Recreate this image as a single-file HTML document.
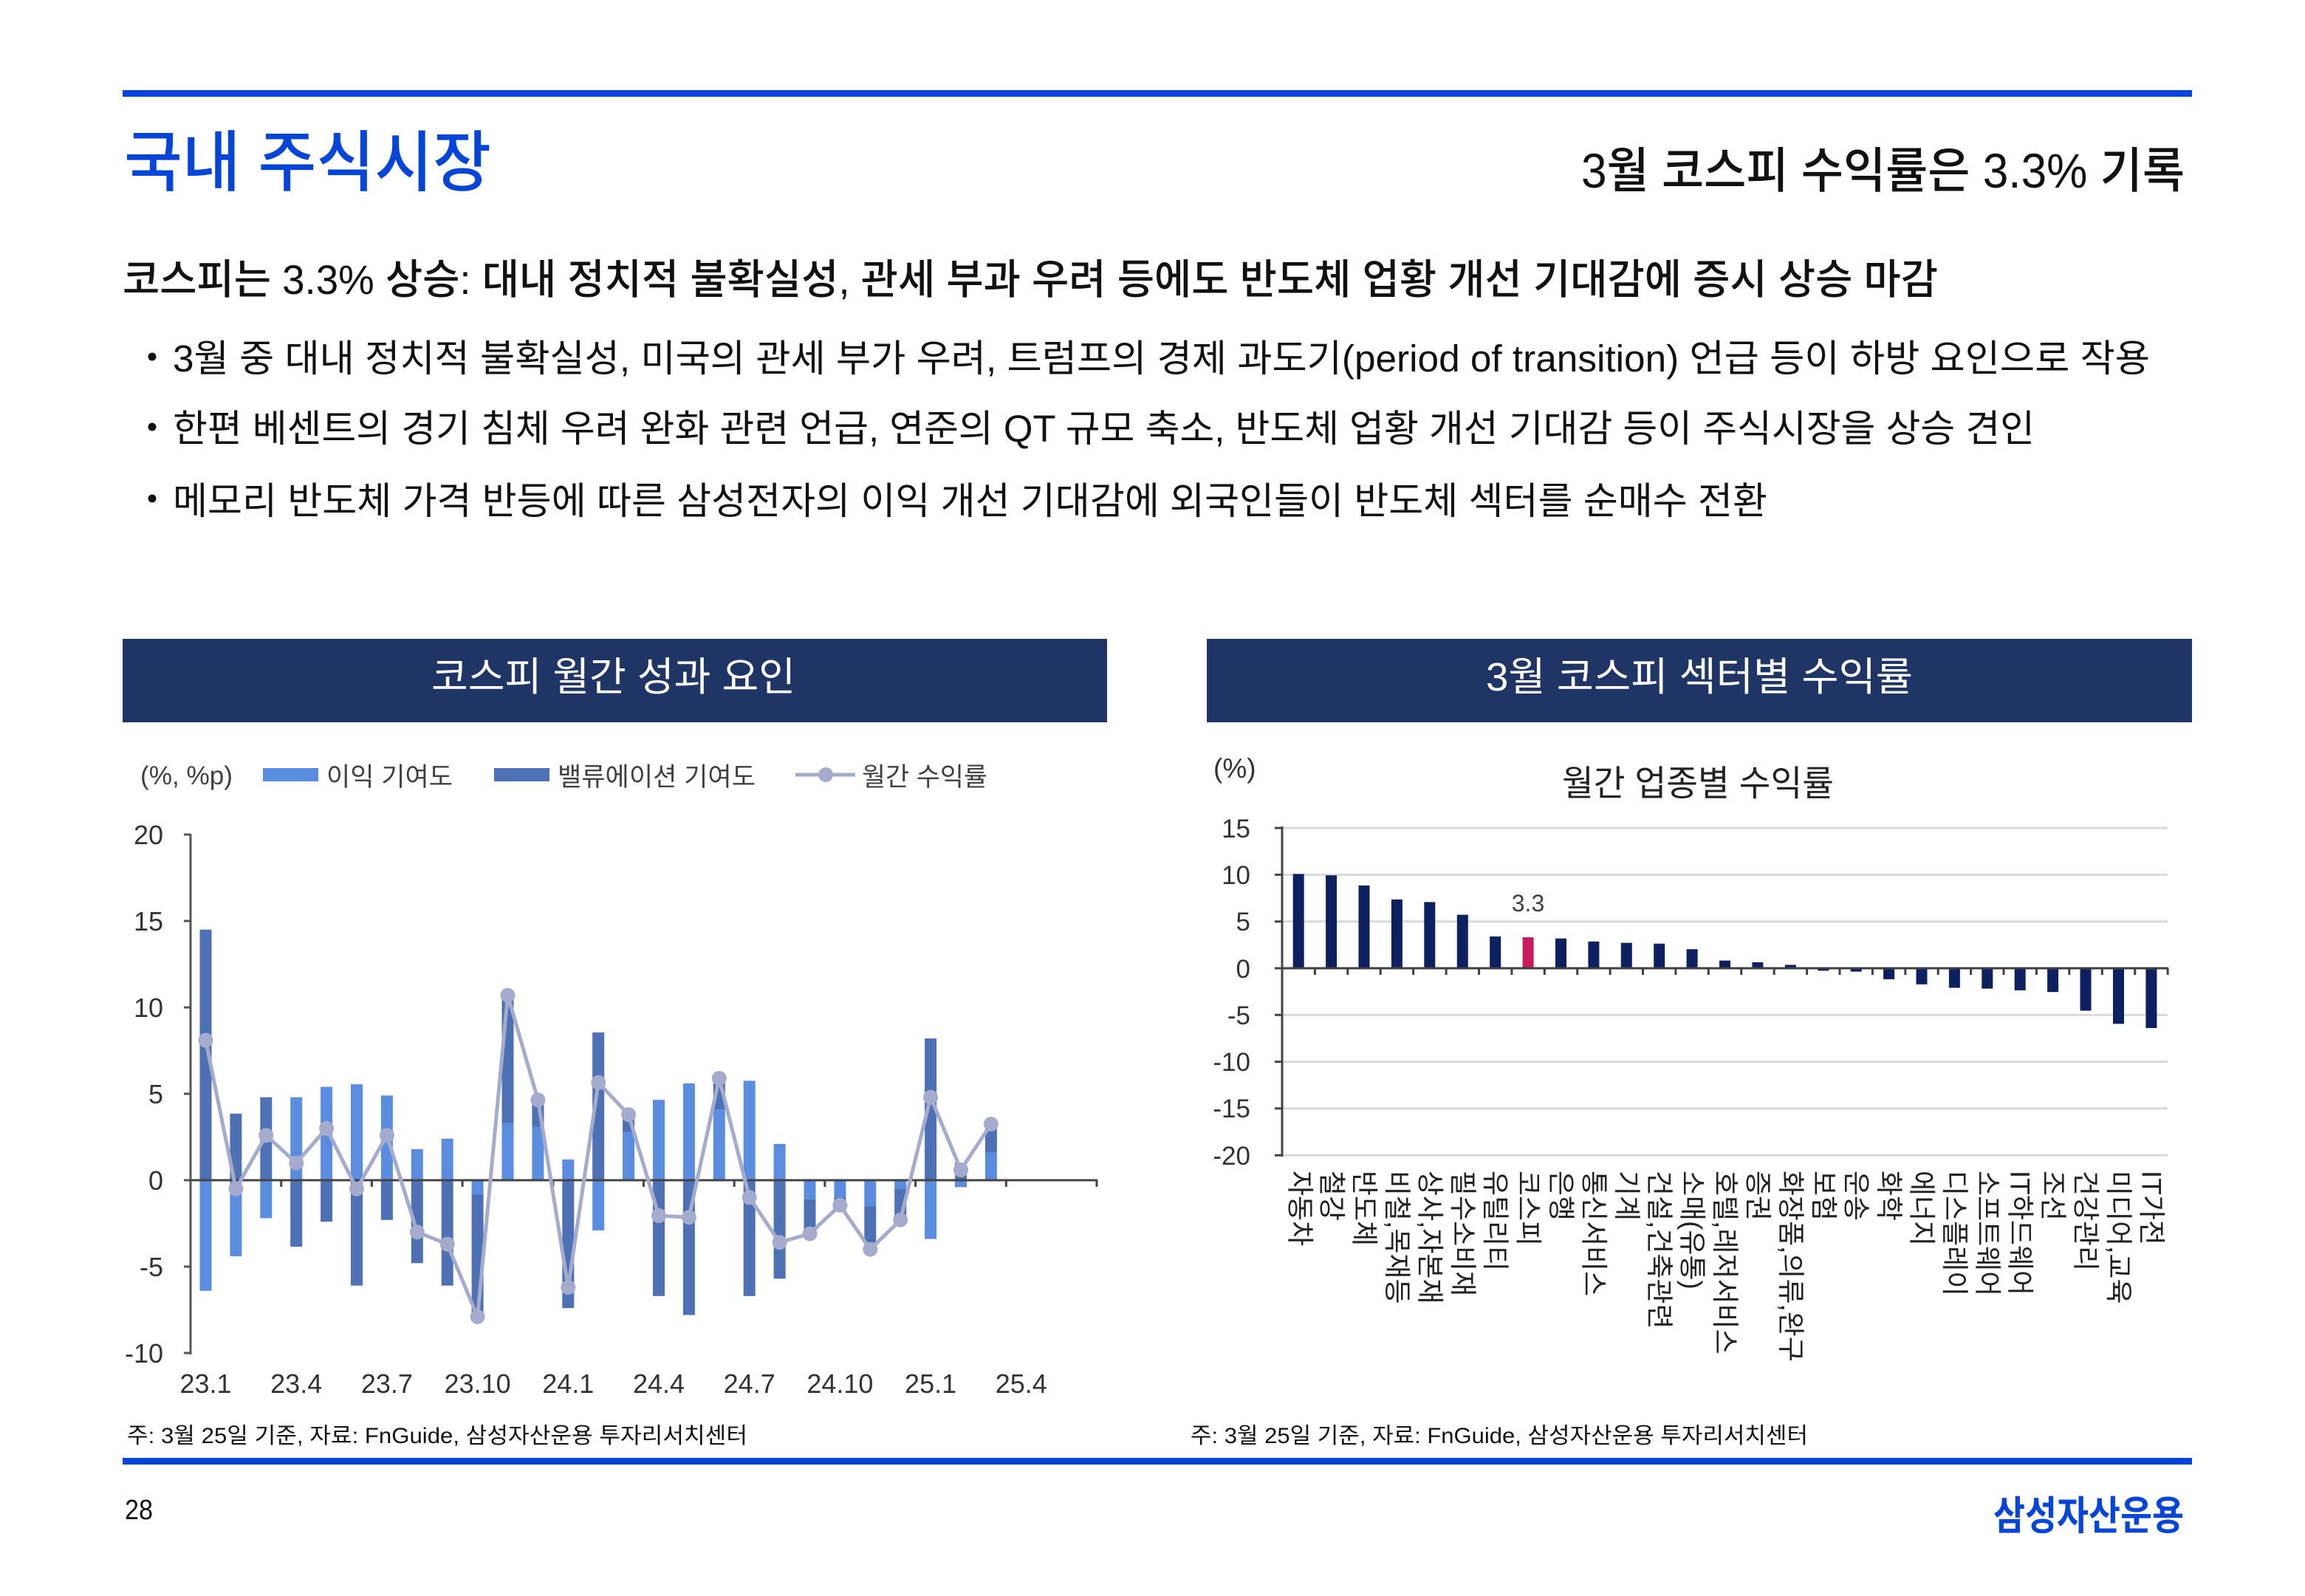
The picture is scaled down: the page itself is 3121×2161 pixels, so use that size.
<!DOCTYPE html>
<html><head><meta charset="utf-8"><style>
html,body{margin:0;padding:0;background:#fff;}
svg{display:block;}
text{font-family:"Liberation Sans","Noto Sans CJK KR",sans-serif;}
</style></head><body>
<svg width="3121" height="2161" viewBox="0 0 3121 2161" xmlns="http://www.w3.org/2000/svg">
<rect width="3121" height="2161" fill="#fff"/>
<!-- top line -->
<rect x="166" y="122" width="2802" height="9" fill="#0745da"/>
<text x="168" y="251" font-size="90" fill="#0645d8" font-weight="500" textLength="497" lengthAdjust="spacingAndGlyphs">국내 주식시장</text>
<text x="2141" y="254" font-size="66" fill="#111" font-weight="500" textLength="817" lengthAdjust="spacingAndGlyphs">3월 코스피 수익률은 3.3% 기록</text>
<text x="166" y="398" font-size="56" fill="#111" font-weight="500" textLength="2458" lengthAdjust="spacingAndGlyphs">코스피는 3.3% 상승: 대내 정치적 불확실성, 관세 부과 우려 등에도 반도체 업황 개선 기대감에 증시 상승 마감</text>
<circle cx="206" cy="483" r="5.5" fill="#111"/>
<circle cx="206" cy="578" r="5.5" fill="#111"/>
<circle cx="206" cy="675" r="5.5" fill="#111"/>
<text x="234" y="503" font-size="51" fill="#111" textLength="2677" lengthAdjust="spacingAndGlyphs">3월 중 대내 정치적 불확실성, 미국의 관세 부가 우려, 트럼프의 경제 과도기(period of transition) 언급 등이 하방 요인으로 작용</text>
<text x="234" y="598" font-size="51" fill="#111" textLength="2521" lengthAdjust="spacingAndGlyphs">한편 베센트의 경기 침체 우려 완화 관련 언급, 연준의 QT 규모 축소, 반도체 업황 개선 기대감 등이 주식시장을 상승 견인</text>
<text x="234" y="696" font-size="51" fill="#111" textLength="2159" lengthAdjust="spacingAndGlyphs">메모리 반도체 가격 반등에 따른 삼성전자의 이익 개선 기대감에 외국인들이 반도체 섹터를 순매수 전환</text>

<!-- chart headers -->
<rect x="166" y="865" width="1333" height="113" fill="#1f3566"/>
<rect x="1634" y="865" width="1334" height="113" fill="#1f3566"/>
<text x="584" y="935" font-size="54" fill="#fff" textLength="493" lengthAdjust="spacingAndGlyphs">코스피 월간 성과 요인</text>
<text x="2012" y="935" font-size="54" fill="#fff" textLength="578" lengthAdjust="spacingAndGlyphs">3월 코스피 섹터별 수익률</text>

<!-- LEFT CHART -->
<g fill="#404040">
<text x="190" y="1062" font-size="35" textLength="125" lengthAdjust="spacingAndGlyphs">(%, %p)</text>
<rect x="356" y="1040" width="75" height="18" fill="#5a8de0"/>
<text x="442" y="1064" font-size="35" textLength="171" lengthAdjust="spacingAndGlyphs">이익 기여도</text>
<rect x="669" y="1040" width="75" height="18" fill="#4e70b5"/>
<text x="755" y="1064" font-size="35" textLength="268" lengthAdjust="spacingAndGlyphs">밸류에이션 기여도</text>
<line x1="1077" y1="1049" x2="1158" y2="1049" stroke="#a4abcd" stroke-width="5"/>
<circle cx="1118" cy="1049" r="10" fill="#a4abcd"/>
<text x="1167" y="1064" font-size="35" textLength="170" lengthAdjust="spacingAndGlyphs">월간 수익률</text>
</g>
<g font-size="36" fill="#333" text-anchor="end">
<text x="221" y="1143">20</text>
<text x="221" y="1260">15</text>
<text x="221" y="1377">10</text>
<text x="221" y="1494">5</text>
<text x="221" y="1611">0</text>
<text x="221" y="1728">-5</text>
<text x="221" y="1845">-10</text>
</g>
<g font-size="36" fill="#333" text-anchor="middle">
<text x="278.5" y="1886">23.1</text>
<text x="401.2" y="1886">23.4</text>
<text x="523.9" y="1886">23.7</text>
<text x="646.6" y="1886">23.10</text>
<text x="769.3" y="1886">24.1</text>
<text x="892.0" y="1886">24.4</text>
<text x="1014.7" y="1886">24.7</text>
<text x="1137.4" y="1886">24.10</text>
<text x="1260.1" y="1886">25.1</text>
<text x="1382.8" y="1886">25.4</text>
</g>
<!-- light bars (earnings) -->
<g fill="#5a8de0">
<rect x="270.5" y="1598" width="16" height="149.8"/>
<rect x="311.4" y="1598" width="16" height="103"/>
<rect x="352.3" y="1598" width="16" height="51.5"/>
<rect x="393.2" y="1485.7" width="16" height="112.3"/>
<rect x="434.1" y="1471.6" width="16" height="126.4"/>
<rect x="475.0" y="1468.1" width="16" height="129.9"/>
<rect x="515.9" y="1483.3" width="16" height="114.7"/>
<rect x="556.8" y="1555.9" width="16" height="42.1"/>
<rect x="597.7" y="1541.8" width="16" height="56.2"/>
<rect x="638.6" y="1598" width="16" height="18.7"/>
<rect x="679.5" y="1520.8" width="16" height="77.2"/>
<rect x="720.4" y="1525.5" width="16" height="72.5"/>
<rect x="761.3" y="1569.9" width="16" height="28.1"/>
<rect x="802.2" y="1598" width="16" height="67.9"/>
<rect x="843.1" y="1532.5" width="16" height="65.5"/>
<rect x="884.0" y="1489.2" width="16" height="108.8"/>
<rect x="924.9" y="1467" width="16" height="131"/>
<rect x="965.8" y="1502.1" width="16" height="95.9"/>
<rect x="1006.7" y="1463.4" width="16" height="134.6"/>
<rect x="1047.6" y="1548.9" width="16" height="49.1"/>
<rect x="1088.5" y="1598" width="16" height="25.7"/>
<rect x="1129.4" y="1598" width="16" height="23.4"/>
<rect x="1170.3" y="1598" width="16" height="35.1"/>
<rect x="1211.2" y="1598" width="16" height="11.7"/>
<rect x="1252.1" y="1598" width="16" height="79.6"/>
<rect x="1293.0" y="1598" width="16" height="9.4"/>
<rect x="1333.9" y="1560.6" width="16" height="37.4"/>
</g>
<!-- dark bars (valuation) -->
<g fill="#4e70b5">
<rect x="270.5" y="1258.7" width="16" height="339.3"/>
<rect x="311.4" y="1507.9" width="16" height="90.1"/>
<rect x="352.3" y="1485.7" width="16" height="112.3"/>
<rect x="393.2" y="1598" width="16" height="90.1"/>
<rect x="434.1" y="1598" width="16" height="56.2"/>
<rect x="475.0" y="1598" width="16" height="142.7"/>
<rect x="515.9" y="1598" width="16" height="53.8"/>
<rect x="556.8" y="1598" width="16" height="112.3"/>
<rect x="597.7" y="1598" width="16" height="142.7"/>
<rect x="638.6" y="1616.7" width="16" height="166.1"/>
<rect x="679.5" y="1347.6" width="16" height="173.2"/>
<rect x="720.4" y="1489.2" width="16" height="36.3"/>
<rect x="761.3" y="1598" width="16" height="173.2"/>
<rect x="802.2" y="1397.9" width="16" height="200.1"/>
<rect x="843.1" y="1509.1" width="16" height="23.4"/>
<rect x="884.0" y="1598" width="16" height="156.8"/>
<rect x="924.9" y="1598" width="16" height="182.5"/>
<rect x="965.8" y="1460" width="16" height="42.1"/>
<rect x="1006.7" y="1598" width="16" height="156.8"/>
<rect x="1047.6" y="1598" width="16" height="133.4"/>
<rect x="1088.5" y="1623.7" width="16" height="46.8"/>
<rect x="1129.4" y="1621.4" width="16" height="10.5"/>
<rect x="1170.3" y="1633.1" width="16" height="58.5"/>
<rect x="1211.2" y="1609.7" width="16" height="42.1"/>
<rect x="1252.1" y="1406.1" width="16" height="191.9"/>
<rect x="1293.0" y="1574.6" width="16" height="23.4"/>
<rect x="1333.9" y="1522" width="16" height="38.6"/>
</g>
<!-- left axes -->
<line x1="258" y1="1129" x2="258" y2="1834" stroke="#555" stroke-width="3"/>
<path d="M249 1130H258M249 1247H258M249 1364H258M249 1481H258M249 1598H258M249 1715H258M249 1832H258" stroke="#555" stroke-width="3"/>
<line x1="258" y1="1598" x2="1486" y2="1598" stroke="#444" stroke-width="3"/>
<path d="M380.7 1598v9M503.4 1598v9M626.1 1598v9M748.8 1598v9M871.5 1598v9M994.2 1598v9M1116.9 1598v9M1239.6 1598v9M1362.3 1598v9M1485 1598v9" stroke="#444" stroke-width="3"/>
<!-- line series -->
<polyline fill="none" stroke="#a4abcd" stroke-width="5" stroke-linejoin="round" points="278.5,1408.5 319.4,1609.7 360.3,1537.2 401.2,1574.6 442.1,1527.8 483.0,1609.7 523.9,1537.2 564.8,1668.2 605.7,1684.6 646.6,1782.9 687.5,1347.6 728.4,1489.2 769.3,1743.1 810.2,1465.8 851.1,1509.1 892.0,1646.0 932.9,1648.3 973.8,1460 1014.7,1621.4 1055.6,1682.2 1096.5,1670.5 1137.4,1631.9 1178.3,1691.6 1219.2,1651.8 1260.1,1485.7 1301.0,1584.0 1341.9,1522.0"/>
<g fill="#a4abcd">
<circle cx="278.5" cy="1408.5" r="10"/><circle cx="319.4" cy="1609.7" r="10"/><circle cx="360.3" cy="1537.2" r="10"/><circle cx="401.2" cy="1574.6" r="10"/><circle cx="442.1" cy="1527.8" r="10"/><circle cx="483.0" cy="1609.7" r="10"/><circle cx="523.9" cy="1537.2" r="10"/><circle cx="564.8" cy="1668.2" r="10"/><circle cx="605.7" cy="1684.6" r="10"/><circle cx="646.6" cy="1782.9" r="10"/><circle cx="687.5" cy="1347.6" r="10"/><circle cx="728.4" cy="1489.2" r="10"/><circle cx="769.3" cy="1743.1" r="10"/><circle cx="810.2" cy="1465.8" r="10"/><circle cx="851.1" cy="1509.1" r="10"/><circle cx="892.0" cy="1646.0" r="10"/><circle cx="932.9" cy="1648.3" r="10"/><circle cx="973.8" cy="1460" r="10"/><circle cx="1014.7" cy="1621.4" r="10"/><circle cx="1055.6" cy="1682.2" r="10"/><circle cx="1096.5" cy="1670.5" r="10"/><circle cx="1137.4" cy="1631.9" r="10"/><circle cx="1178.3" cy="1691.6" r="10"/><circle cx="1219.2" cy="1651.8" r="10"/><circle cx="1260.1" cy="1485.7" r="10"/><circle cx="1301.0" cy="1584.0" r="10"/><circle cx="1341.9" cy="1522.0" r="10"/>
</g>

<!-- RIGHT CHART -->
<text x="1643" y="1053" font-size="37" fill="#333">(%)</text>
<text x="2115" y="1077" font-size="48" fill="#222" textLength="368" lengthAdjust="spacingAndGlyphs">월간 업종별 수익률</text>
<path d="M1736 1121.1H2935M1736 1184.4H2935M1736 1247.7H2935M1736 1374.3H2935M1736 1437.6H2935M1736 1500.9H2935M1736 1564.2H2935" stroke="#d9d9d9" stroke-width="3"/>
<g font-size="35" fill="#333" text-anchor="end">
<text x="1693" y="1134">15</text>
<text x="1693" y="1197">10</text>
<text x="1693" y="1260">5</text>
<text x="1693" y="1324">0</text>
<text x="1693" y="1387">-5</text>
<text x="1693" y="1450">-10</text>
<text x="1693" y="1513">-15</text>
<text x="1693" y="1577">-20</text>
</g>
<g fill="#0d2160">
<rect x="1750.7" y="1183.4" width="15" height="127.6"/>
<rect x="1795.1" y="1185.2" width="15" height="125.8"/>
<rect x="1839.5" y="1199.0" width="15" height="112.0"/>
<rect x="1883.9" y="1217.9" width="15" height="93.1"/>
<rect x="1928.3" y="1221.4" width="15" height="89.6"/>
<rect x="1972.8" y="1238.6" width="15" height="72.4"/>
<rect x="2017.2" y="1268.0" width="15" height="43.0"/>
<rect x="2106.0" y="1270.7" width="15" height="40.3"/>
<rect x="2150.4" y="1274.8" width="15" height="36.2"/>
<rect x="2194.8" y="1276.6" width="15" height="34.4"/>
<rect x="2239.2" y="1277.7" width="15" height="33.3"/>
<rect x="2283.6" y="1285.2" width="15" height="25.8"/>
<rect x="2328.0" y="1300.6" width="15" height="10.4"/>
<rect x="2372.4" y="1302.9" width="15" height="8.1"/>
<rect x="2416.9" y="1306.4" width="15" height="4.6"/>
<rect x="2461.3" y="1311" width="15" height="3.4"/>
<rect x="2505.7" y="1311" width="15" height="4.6"/>
<rect x="2550.1" y="1311" width="15" height="14.9"/>
<rect x="2594.5" y="1311" width="15" height="21.8"/>
<rect x="2638.9" y="1311" width="15" height="26.5"/>
<rect x="2683.3" y="1311" width="15" height="27.6"/>
<rect x="2727.7" y="1311" width="15" height="29.9"/>
<rect x="2772.1" y="1311" width="15" height="32.2"/>
<rect x="2816.5" y="1311" width="15" height="57.5"/>
<rect x="2861.0" y="1311" width="15" height="75.3"/>
<rect x="2905.4" y="1311" width="15" height="81.0"/>
</g>
<rect x="2061.6" y="1269.1" width="15" height="41.9" fill="#c81c5f"/>
<text x="2069" y="1234" font-size="32" fill="#404040" text-anchor="middle">3.3</text>
<line x1="1736" y1="1119" x2="1736" y2="1566" stroke="#444" stroke-width="3"/>
<path d="M1726 1121.1H1736M1726 1184.4H1736M1726 1247.7H1736M1726 1311H1736M1726 1374.3H1736M1726 1437.6H1736M1726 1500.9H1736M1726 1564.2H1736" stroke="#444" stroke-width="3"/>
<line x1="1736" y1="1311" x2="2936" y2="1311" stroke="#404040" stroke-width="3"/>
<path d="M1780.4 1311v9M1824.8 1311v9M1869.2 1311v9M1913.6 1311v9M1958.1 1311v9M2002.5 1311v9M2046.9 1311v9M2091.3 1311v9M2135.7 1311v9M2180.1 1311v9M2224.5 1311v9M2268.9 1311v9M2313.3 1311v9M2357.7 1311v9M2402.2 1311v9M2446.6 1311v9M2491.0 1311v9M2535.4 1311v9M2579.8 1311v9M2624.2 1311v9M2668.6 1311v9M2713.0 1311v9M2757.4 1311v9M2801.8 1311v9M2846.3 1311v9M2890.7 1311v9M2935.1 1311v9" stroke="#404040" stroke-width="3"/>
<g font-size="37" fill="#222" dominant-baseline="central">
<text transform="translate(1760,1585) rotate(90)">자동차</text>
<text transform="translate(1803,1585) rotate(90)">철강</text>
<text transform="translate(1847,1585) rotate(90)">반도체</text>
<text transform="translate(1891.4,1585) rotate(90)">비철,목재등</text>
<text transform="translate(1935.8,1585) rotate(90)">상사,자본재</text>
<text transform="translate(1980.3,1585) rotate(90)">필수소비재</text>
<text transform="translate(2024.7,1585) rotate(90)">유틸리티</text>
<text transform="translate(2069.1,1585) rotate(90)">코스피</text>
<text transform="translate(2113.5,1585) rotate(90)">은행</text>
<text transform="translate(2157.9,1585) rotate(90)">통신서비스</text>
<text transform="translate(2202.3,1585) rotate(90)">기계</text>
<text transform="translate(2246.7,1585) rotate(90)">건설,건축관련</text>
<text transform="translate(2291.1,1585) rotate(90)">소매(유통)</text>
<text transform="translate(2335.5,1585) rotate(90)">호텔,레저서비스</text>
<text transform="translate(2379.9,1585) rotate(90)">증권</text>
<text transform="translate(2424.4,1585) rotate(90)">화장품,의류,완구</text>
<text transform="translate(2468.8,1585) rotate(90)">보험</text>
<text transform="translate(2513.2,1585) rotate(90)">운송</text>
<text transform="translate(2557.6,1585) rotate(90)">화학</text>
<text transform="translate(2602.0,1585) rotate(90)">에너지</text>
<text transform="translate(2646.4,1585) rotate(90)">디스플레이</text>
<text transform="translate(2690.8,1585) rotate(90)">소프트웨어</text>
<text transform="translate(2735.2,1585) rotate(90)">IT하드웨어</text>
<text transform="translate(2779.6,1585) rotate(90)">조선</text>
<text transform="translate(2824.0,1585) rotate(90)">건강관리</text>
<text transform="translate(2868.5,1585) rotate(90)">미디어,교육</text>
<text transform="translate(2912.9,1585) rotate(90)">IT가전</text>
</g>

<!-- footnotes -->
<text x="172" y="1954" font-size="30" fill="#111" textLength="840" lengthAdjust="spacingAndGlyphs">주: 3월 25일 기준, 자료: FnGuide, 삼성자산운용 투자리서치센터</text>
<text x="1612" y="1954" font-size="30" fill="#111" textLength="836" lengthAdjust="spacingAndGlyphs">주: 3월 25일 기준, 자료: FnGuide, 삼성자산운용 투자리서치센터</text>
<rect x="166" y="1974" width="2802" height="9" fill="#0745da"/>
<text x="169" y="2057" font-size="38" fill="#111" textLength="38" lengthAdjust="spacingAndGlyphs">28</text>
<text x="2699" y="2071" font-size="54" fill="#0645d8" font-weight="bold" textLength="258" lengthAdjust="spacingAndGlyphs">삼성자산운용</text>
</svg>
</body></html>
